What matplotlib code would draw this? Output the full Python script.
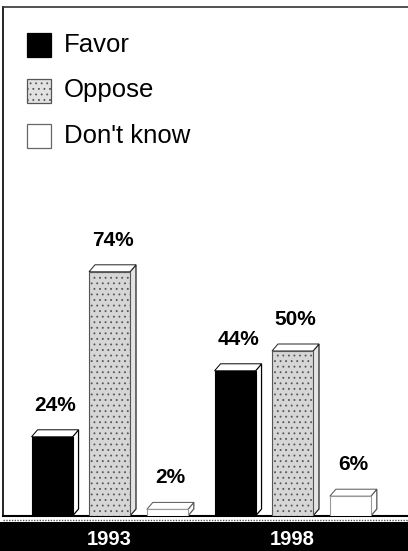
import matplotlib
matplotlib.use("Agg")
import matplotlib.pyplot as plt
from matplotlib.patches import Rectangle, Polygon
import matplotlib.transforms as mtransforms

# ---- data ----
years = ["1993", "1998"]
series = ["Favor", "Oppose", "Don't know"]
favor = [24, 44]
oppose = [74, 50]
dont_know = [2, 6]
values = [favor, oppose, dont_know]

# ---- style ----
face = ["#000000", "#d6d6d6", "#ffffff"]
edge = ["#000000", "#555555", "#999999"]
hatch = [None, "...", None]
side_face = ["#ffffff", "#e4e4e4", "#ffffff"]
side_edge = ["#000000", "#222222", "#555555"]

W, H = 408, 551
fig = plt.figure(figsize=(W / 100, H / 100), dpi=100)
plt.rcParams["hatch.linewidth"] = 0.6

px_left, px_right, px_top, px_base = 3, 408, 7, 516
ax = fig.add_axes([px_left / W, (H - px_base) / H,
                   (px_right - px_left) / W, (px_base - px_top) / H])
ppu_y = 3.3     # pixels per percent
ppu_x = 183.0   # pixels per group unit
center0 = 109.5
ax.set_ylim(0, (px_base - px_top) / ppu_y)
ax.set_xlim((px_left - center0) / ppu_x, (px_right - center0) / ppu_x)
ax.set_xticks([])
ax.set_yticks([])
ax.spines["right"].set_visible(False)
ax.spines["left"].set_linewidth(1.2)
ax.spines["top"].set_linewidth(1.2)
ax.spines["top"].set_color("#333333")
ax.spines["bottom"].set_linewidth(1.5)

offsets = [-0.314, 0.0, 0.316]
bw = 0.224
dx = 6 / ppu_x
dy = 7 / ppu_y

label_font = dict(family=["Liberation Sans", "DejaVu Sans"], weight="bold",
                  fontsize=15)

for s, vals in enumerate(values):
    for g, v in enumerate(vals):
        xc = g + offsets[s]
        x0, x1 = xc - bw / 2, xc + bw / 2
        # side
        ax.add_patch(Polygon([(x1, 0), (x1 + dx, dy), (x1 + dx, v + dy), (x1, v)],
                             closed=True, facecolor=side_face[s],
                             edgecolor=side_edge[s], linewidth=0.9, zorder=2))
        # top
        ax.add_patch(Polygon([(x0, v), (x0 + dx, v + dy), (x1 + dx, v + dy), (x1, v)],
                             closed=True, facecolor="#ffffff",
                             edgecolor=side_edge[s], linewidth=0.7, zorder=2))
        ax.bar(xc, v, width=bw, color=face[s], edgecolor=edge[s],
               hatch=hatch[s], linewidth=0.8, zorder=3)
        ax.annotate(f"{v}%", xy=(xc + dx / 2, v + dy), xytext=(0, 11),
                    textcoords="offset points", ha="center", va="bottom",
                    color="black", **label_font)

# ground line and black band
fig.add_artist(plt.Line2D([px_left / W, 1], [(H - 519.5) / H] * 2,
                          color="#555555", linewidth=1.0, linestyle=(0, (1, 1))))
fig.add_artist(Rectangle((0, 0), 1, (H - 522) / H, transform=fig.transFigure,
                         facecolor="black", edgecolor="none", zorder=1))
trans = mtransforms.blended_transform_factory(ax.transData, fig.transFigure)
for g, yr in enumerate(years):
    fig.text(g, (H - 539.5) / H, yr, transform=trans, ha="center", va="center",
             color="white", fontsize=14.5, weight="bold",
             family=["Liberation Sans", "DejaVu Sans"], zorder=5)

# legend
leg_y = [45, 90.5, 136]
leg_face = ["#000000", "#e2e2e2", "#ffffff"]
leg_edge = ["#000000", "#555555", "#666666"]
for i, name in enumerate(series):
    cy = leg_y[i]
    fig.add_artist(Rectangle((27 / W, (H - cy - 12) / H), 24 / W, 24 / H,
                             transform=fig.transFigure, facecolor=leg_face[i],
                             edgecolor=leg_edge[i], linewidth=0.9,
                             hatch="..." if i == 1 else None))
    fig.text(64 / W, (H - cy) / H, name, ha="left", va="center",
             fontsize=18.5, family=["Liberation Sans", "DejaVu Sans"], color="black")

fig.savefig("out.png", dpi=100)
